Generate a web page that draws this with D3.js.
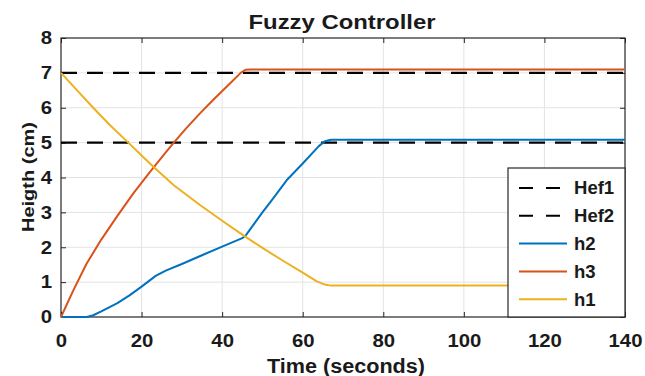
<!DOCTYPE html>
<html>
<head>
<meta charset="utf-8">
<script src="https://cdn.jsdelivr.net/npm/d3@7"></script>
<style>
  html, body { margin: 0; padding: 0; background: #fff; }
  svg text { font-family: 'Liberation Sans', Arial, sans-serif; font-weight: bold; fill: #1a1a1a; }
</style>
</head>
<body>
<div id="fuzzyGraph"></div>
<script>
// values
const xTicks = [0, 20, 40, 60, 80, 100, 120, 140];
const yTicks = [0, 1, 2, 3, 4, 5, 6, 7, 8];
const hef1 = 7;
const hef2 = 5;
const h2Data = [[0, 0], [6.4, 0], [8, 0.05], [10, 0.16], [14, 0.4], [17, 0.62], [20, 0.87], [23.5, 1.18], [26, 1.33],
  [30, 1.52], [35, 1.77], [40, 2.02], [45, 2.26], [46, 2.36], [50, 3.0], [53, 3.45], [56, 3.92], [60, 4.4],
  [64, 4.9], [65.5, 5.04], [67, 5.08], [140, 5.08]];
const h3Data = [[0, 0], [3, 0.75], [6.3, 1.52], [10, 2.22], [14, 2.9], [18, 3.55], [22, 4.15], [26, 4.72], [28, 5.0],
  [31, 5.4], [34.5, 5.84], [38, 6.25], [42, 6.7], [44.6, 7.0], [45.8, 7.09], [47, 7.1], [140, 7.1]];
const h1Data = [[0, 7], [4, 6.5], [8, 6.0], [12, 5.52], [16.7, 5.0], [20, 4.63], [23, 4.3], [28, 3.78], [34.5, 3.21],
  [40, 2.76], [45, 2.36], [50, 1.98], [55, 1.62], [60, 1.27], [63.5, 1.02], [65.5, 0.93], [67, 0.9], [140, 0.9]];

const legendItems = [
  { name: 'Hef1', color: '#000', dash: '14,13' },
  { name: 'Hef2', color: '#000', dash: '14,13' },
  { name: 'h2', color: '#0072BD', dash: null },
  { name: 'h3', color: '#D95319', dash: null },
  { name: 'h1', color: '#EDB120', dash: null }
];

const width = 645;
const height = 376;
const plot = { left: 61, top: 38, right: 625, bottom: 317 };
const stretch = 'scale(1.13,1)';

const svg = d3.select('#fuzzyGraph')
  .append('svg')
    .attr('width', width)
    .attr('height', height);

const x = d3.scaleLinear().domain([0, 140]).range([plot.left, plot.right]);
const y = d3.scaleLinear().domain([0, 8]).range([plot.bottom, plot.top]);

// grid
const grid = svg.append('g').attr('class', 'grid');
grid.selectAll('line.gx')
  .data(xTicks.slice(1, -1))
  .enter().append('line')
    .attr('x1', (d) => x(d)).attr('x2', (d) => x(d))
    .attr('y1', plot.top).attr('y2', plot.bottom)
    .attr('stroke', '#e3e3e3').attr('stroke-width', 1);
grid.selectAll('line.gy')
  .data(yTicks.slice(1, -1))
  .enter().append('line')
    .attr('y1', (d) => y(d)).attr('y2', (d) => y(d))
    .attr('x1', plot.left).attr('x2', plot.right)
    .attr('stroke', '#e3e3e3').attr('stroke-width', 1);

// axes (ticks inside, box all round)
const axisStyle = (g) => {
  g.select('.domain').remove();
  g.selectAll('.tick line').attr('stroke', '#262626').attr('stroke-width', 1);
};

svg.append('g')
  .attr('transform', 'translate(0,' + plot.bottom + ')')
  .call(d3.axisBottom(x).tickValues(xTicks).tickSizeInner(-5).tickSizeOuter(0).tickPadding(17))
  .call(axisStyle)
  .selectAll('text')
    .style('font-size', '18px')
    .attr('transform', stretch);
svg.append('g')
  .attr('transform', 'translate(0,' + plot.top + ')')
  .call(d3.axisTop(x).tickValues(xTicks).tickSizeInner(-5).tickSizeOuter(0).tickFormat(''))
  .call(axisStyle);
svg.append('g')
  .attr('transform', 'translate(' + plot.left + ',0)')
  .call(d3.axisLeft(y).tickValues(yTicks).tickSizeInner(-5).tickSizeOuter(0).tickPadding(9))
  .call(axisStyle)
  .selectAll('text')
    .style('font-size', '18px')
    .attr('x', 0)
    .attr('transform', 'translate(-9,0) ' + stretch);
svg.append('g')
  .attr('transform', 'translate(' + plot.right + ',0)')
  .call(d3.axisRight(y).tickValues(yTicks).tickSizeInner(-5).tickSizeOuter(0).tickFormat(''))
  .call(axisStyle);

svg.append('rect')
  .attr('x', plot.left).attr('y', plot.top)
  .attr('width', plot.right - plot.left).attr('height', plot.bottom - plot.top)
  .attr('fill', 'none').attr('stroke', '#262626').attr('stroke-width', 1.2);

// reference lines
const lines = svg.append('g').attr('class', 'lines');
[hef1, hef2].forEach((v) => {
  lines.append('line')
    .attr('x1', x(0)).attr('x2', x(140))
    .attr('y1', y(v)).attr('y2', y(v))
    .attr('stroke', '#000').attr('stroke-width', 2.2)
    .attr('stroke-dasharray', '16,10');
});

const line = d3.line()
  .x((d) => x(d[0]))
  .y((d) => y(d[1]));

[[h2Data, '#0072BD'], [h3Data, '#D95319'], [h1Data, '#EDB120']].forEach((s) => {
  lines.append('path')
    .datum(s[0])
    .attr('d', line)
    .attr('fill', 'none')
    .attr('stroke', s[1])
    .attr('stroke-width', 2)
    .attr('stroke-linejoin', 'round');
});

// title and labels
svg.append('text')
  .attr('x', 342).attr('y', 29)
  .attr('text-anchor', 'middle')
  .attr('textLength', 187).attr('lengthAdjust', 'spacingAndGlyphs')
  .style('font-size', '21px')
  .text('Fuzzy Controller');

svg.append('text')
  .attr('x', 346).attr('y', 373)
  .attr('text-anchor', 'middle')
  .attr('textLength', 158).attr('lengthAdjust', 'spacingAndGlyphs')
  .style('font-size', '19.5px')
  .text('Time (seconds)');

svg.append('text')
  .attr('transform', 'translate(33.5,177) rotate(-90)')
  .attr('text-anchor', 'middle')
  .attr('textLength', 110).attr('lengthAdjust', 'spacingAndGlyphs')
  .style('font-size', '16px')
  .text('Heigth (cm)');

// legend
const legend = svg.append('g').attr('class', 'legend');
legend.append('rect')
  .attr('x', 508).attr('y', 168)
  .attr('width', plot.right - 508).attr('height', plot.bottom - 168)
  .attr('fill', '#fff').attr('stroke', '#262626').attr('stroke-width', 1.2);

const legendRow = legend.selectAll('g')
  .data(legendItems)
  .enter().append('g')
    .attr('transform', (d, i) => 'translate(0,' + (188 + i * 27.8) + ')');

legendRow.append('line')
  .attr('x1', 519).attr('x2', 567)
  .attr('stroke', (d) => d.color)
  .attr('stroke-width', 2)
  .attr('stroke-dasharray', (d) => d.dash);

legendRow.append('text')
  .attr('x', 574)
  .attr('dy', '0.36em')
  .style('font-size', '17.5px')
  .attr('transform', 'translate(574,0) scale(1.06,1) translate(-574,0)')
  .text((d) => d.name);
</script>
</body>
</html>
